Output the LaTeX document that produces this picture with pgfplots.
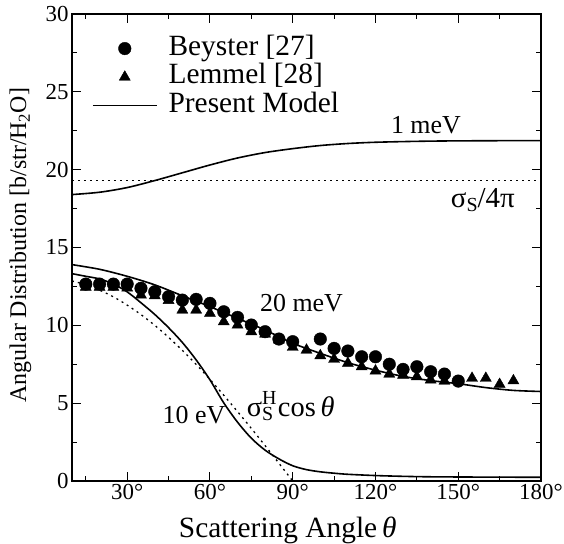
\documentclass[border=0pt]{standalone}
\usepackage{pgfplots}
\pgfplotsset{compat=1.18}
\usepackage{fontspec}
\setmainfont{Liberation Serif}

\pgfplotsset{
  marklegend/.style={legend image code/.code={\draw[##1, mark repeat=2, mark phase=2] plot coordinates {(0bp,0bp) (32bp,0bp) (64bp,0bp)};}},
  linelegend/.style={legend image code/.code={\draw[##1] (0bp,0bp) -- (64bp,0bp);}},
}

\pgfplotstableread{
x y
15 12.65
20 12.65
25 12.65
30 12.65
35 12.38
40 12.16
45 11.84
50 11.62
55 11.67
60 11.41
65 10.87
70 10.51
75 10.02
80 9.59
85 9.12
90 8.95
100 9.12
105 8.52
110 8.35
115 7.98
120 7.98
125 7.50
130 7.17
135 7.34
140 7.02
145 6.87
150 6.42
}\beyster

\pgfplotstableread{
x y
15 12.45
20 12.45
25 12.45
30 12.40
35 11.95
40 11.90
45 11.60
50 10.98
55 10.98
60 10.77
65 10.23
70 10.02
75 9.59
80 9.44
85 9.06
90 8.59
95 8.41
100 8.05
105 7.82
110 7.56
115 7.34
120 7.07
125 6.87
130 6.80
135 6.70
140 6.49
145 6.42
155 6.60
160 6.60
165 6.21
170 6.44
}\lemmel

\pgfplotstableread{
x y
10 18.40
20 18.55
30 18.85
40 19.30
50 19.80
60 20.30
70 20.75
80 21.10
90 21.35
100 21.55
110 21.68
120 21.76
135 21.82
150 21.85
180 21.87
}\onemev

\pgfplotstableread{
x y
10 13.90
20 13.60
30 13.15
40 12.60
50 11.90
60 11.20
70 10.45
80 9.70
90 8.85
100 8.20
110 7.60
120 7.12
130 6.72
140 6.45
150 6.25
160 6.00
170 5.82
180 5.75
}\twentymev

\pgfplotstableread{
x y
10 13.32
15 13.15
20 12.98
25 12.65
30 12.15
35 11.45
40 10.70
45 9.85
50 8.90
55 7.78
60 6.50
65 5.02
70 3.78
75 2.75
80 1.98
85 1.42
90 0.98
95 0.73
100 0.59
105 0.50
110 0.43
120 0.35
130 0.30
140 0.27
160 0.25
180 0.24
}\teneV

\pgfplotstableread{
x y
10 12.85
15 12.61
20 12.26
25 11.83
30 11.30
35 10.69
40 10.00
45 9.23
50 8.39
55 7.49
60 6.53
65 5.51
70 4.46
75 3.38
80 2.27
85 1.14
90 0.00
}\cosine

\begin{document}
\begin{tikzpicture}
\begin{axis}[
  scale only axis, width=469bp, height=467bp,
  xmin=10, xmax=180, ymin=0, ymax=30,
  xtick={30,60,90,120,150,180},
  xticklabels={30°,60°,90°,120°,150°,180°},
  minor xtick={15,45,75,105,135,165},
  ytick={0,5,10,15,20,25,30},
  minor ytick={2.5,7.5,12.5,17.5,22.5,27.5},
  tick align=inside,
  major tick length=9bp, minor tick length=5bp,
  every tick/.style={black, line width=1bp},
  axis line style={line width=1.3bp},
  tick label style={font=\fontsize{23}{23}\selectfont},
  /pgf/number format/assume math mode=true,
  xlabel={Scattering Angle\,{\itshape θ}},
  ylabel={Angular Distribution [b/str/H\textsubscript{2}O]},
  xlabel style={font=\fontsize{29.5}{29.5}\selectfont, at={(axis description cs:0.46,-0.12)}, anchor=base},
  ylabel style={font=\fontsize{24}{24}\selectfont, at={(axis description cs:-0.11,0.505)}, anchor=center},
  legend cell align=left,
  legend style={draw=none, fill=none, inner sep=0pt, outer sep=0pt,
    at={(axis description cs:0.0426,0.957)}, anchor=north west,
    font=\fontsize{29.5}{29.5}\selectfont, row sep=-0.5bp,
    nodes={inner sep=1bp, text height=20bp, text depth=7bp},
    /tikz/every odd column/.append style={column sep=10bp}},
]
\addplot[only marks, mark=*, mark size=6.3bp, black, marklegend] table {\beyster};
\addlegendentry{Beyster [27]}
\addplot[only marks, mark=triangle*, mark size=6.4bp, black, marklegend] table {\lemmel};
\addlegendentry{Lemmel [28]}
\addplot[black, line width=1.6bp, smooth, no marks, linelegend] table {\onemev};
\addlegendentry{Present Model}
\addplot[black, line width=1.6bp, smooth, no marks, forget plot] table {\twentymev};
\addplot[black, line width=1.6bp, smooth, no marks, forget plot] table {\teneV};
\addplot[black, line width=1.3bp, dash pattern=on 2bp off 4bp, no marks, forget plot]
  coordinates {(10,19.3) (180,19.3)};
\addplot[black, line width=1.3bp, dash pattern=on 2bp off 4bp, smooth, no marks, forget plot]
  table {\cosine};

\node[anchor=base, font=\fontsize{26}{26}\selectfont] at (axis cs:138.3,22.35) {1 meV};
\node[anchor=base, font=\fontsize{29}{29}\selectfont] at (axis cs:158.9,17.6) {σ\raisebox{-4bp}{\fontsize{20}{20}\selectfont S}/4π};
\node[anchor=base, font=\fontsize{26}{26}\selectfont] at (axis cs:93.2,10.87) {20 meV};
\node[anchor=base, font=\fontsize{26}{26}\selectfont] at (axis cs:54.2,3.7) {10 eV};
\node[anchor=base west, inner sep=0pt, font=\fontsize{28.5}{28.5}\selectfont] at (axis cs:73.3,4.13)
  {σ\makebox[0pt][l]{\raisebox{12bp}{\fontsize{20}{20}\selectfont H}}\raisebox{-4bp}{\fontsize{20}{20}\selectfont S}\,cos\,{\itshape θ}};
\end{axis}
\pgfresetboundingbox
\path (-72bp,-63bp) rectangle (492bp,481bp);
\end{tikzpicture}
\end{document}
